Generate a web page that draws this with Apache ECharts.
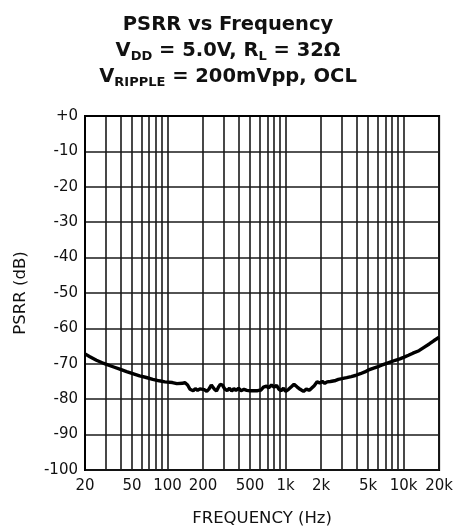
<!DOCTYPE html>
<html>
<head>
<meta charset="utf-8">
<script src="https://cdn.jsdelivr.net/npm/echarts@6/dist/echarts.min.js"></script>
<style>html,body{margin:0;padding:0;background:#fff}#c{width:456px;height:532px}</style>
</head>
<body>
<div id="c"></div>
<script>
// Frequency (Hz)
var freqs = [20,22,25,28,30,35,40,45,50,58,65,75,85,95,110,120,134,140,148,155,160,165,172,180,188,195,205,215,225,235,242,250,260,270,280,292,305,320,335,350,365,380,400,420,445,470,500,540,580,620,650,690,720,760,800,840,880,920,960,1000,1060,1120,1180,1250,1330,1420,1500,1580,1650,1750,1850,1950,2050,2150,2250,2400,2600,2800,3000,3300,3600,3900,4300,4700,5000,5500,6000,6500,7000,7700,8500,9300,10000,11000,12000,13500,15000,16500,18000,20000];
// PSRR (dB)
var psrr = [-67.2,-68.0,-69.0,-69.7,-70.1,-70.9,-71.6,-72.2,-72.7,-73.4,-73.8,-74.4,-74.8,-75.1,-75.3,-75.6,-75.5,-75.3,-76.0,-77.2,-76.8,-77.6,-77.0,-77.5,-77.1,-77.6,-77.3,-77.8,-77.1,-76.0,-75.7,-77.2,-77.7,-76.6,-75.8,-76.0,-77.1,-77.6,-76.9,-77.7,-77.0,-77.5,-76.9,-77.6,-77.2,-77.5,-77.6,-77.6,-77.6,-77.4,-76.6,-76.3,-76.8,-76.0,-76.6,-76.1,-77.2,-77.6,-76.9,-77.8,-77.2,-76.5,-75.8,-76.5,-77.2,-77.8,-77.1,-77.5,-77.0,-76.2,-75.1,-75.4,-75.0,-75.5,-75.1,-75.0,-74.8,-74.4,-74.2,-73.9,-73.6,-73.3,-72.8,-72.3,-71.8,-71.3,-70.9,-70.4,-70.0,-69.5,-69.0,-68.6,-68.2,-67.6,-67.0,-66.3,-65.3,-64.4,-63.5,-62.5];
// Grid line positions and tick labels
var xGrid = [20,30,40,50,60,70,80,90,100,200,300,400,500,600,700,800,900,1000,2000,3000,4000,5000,6000,7000,8000,9000,10000,20000];
var xLabels = [20,50,100,200,500,1000,2000,5000,10000,20000];
var yMin = -100, yMax = 0, yStep = 10;

var chart = echarts.init(document.getElementById('c'));
var FONT = 'DejaVu Sans, Liberation Sans, Arial, sans-serif';
var data = freqs.map(function(f,i){return [f, psrr[i]];});

chart.setOption({
  animation:false,
  backgroundColor:'#fff',
  title:{
    left:'center', top:7,
    text:'{m|PSRR vs Frequency}\n{m|V}{s|DD}{m| = 5.0V, R}{s|L}{m| = 32Ω}\n{m|V}{s|RIPPLE}{m| = 200mVpp, OCL}',
    textStyle:{
      fontFamily:FONT, fontWeight:'bold', fontSize:19.5, color:'#111', lineHeight:26,
      rich:{
        m:{fontFamily:FONT, fontWeight:'bold', fontSize:19.5, color:'#111', lineHeight:26},
        s:{fontFamily:FONT, fontWeight:'bold', fontSize:13, color:'#111', lineHeight:26, padding:[11,0,0,0]}
      }
    }
  },
  grid:{left:85, right:15, top:116, bottom:60, show:true, borderColor:'#000', borderWidth:2, backgroundColor:'transparent'},
  xAxis:{
    type:'log', logBase:10, min:20, max:20000,
    name:'FREQUENCY (Hz)', nameLocation:'middle', nameGap:40,
    nameTextStyle:{fontFamily:FONT, fontSize:16.5, color:'#111'},
    axisLine:{show:true, lineStyle:{color:'#000', width:2}},
    axisTick:{show:false, customValues:xGrid},
    axisLabel:{customValues:xLabels, fontFamily:FONT, fontSize:15, color:'#111', margin:9,
      formatter:function(v){v=Math.round(v); return v>=1000? (v/1000)+'k' : String(v);}},
    splitLine:{show:true, lineStyle:{color:'#1a1a1a', width:1.6}},
    minorSplitLine:{show:false}
  },
  yAxis:{
    type:'value', min:yMin, max:yMax, interval:yStep,
    name:'PSRR (dB)', nameLocation:'middle', nameGap:56, nameRotate:90,
    nameTextStyle:{fontFamily:FONT, fontSize:16.5, color:'#111'},
    axisLine:{show:true, lineStyle:{color:'#000', width:2}},
    axisTick:{show:false},
    axisLabel:{fontFamily:FONT, fontSize:15, color:'#111', margin:7,
      formatter:function(v){return v===0?'+0':String(v);}},
    splitLine:{show:true, lineStyle:{color:'#1a1a1a', width:1.6}}
  },
  series:[{
    type:'line', data:data, showSymbol:false, symbol:'none',
    lineStyle:{color:'#000', width:3.4}, z:5
  }]
});
</script>
</body>
</html>
